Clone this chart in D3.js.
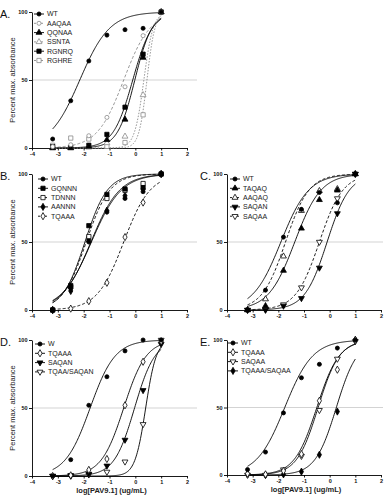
<!DOCTYPE html>
<html>
<head>
<meta charset="utf-8">
<script src="https://cdn.jsdelivr.net/npm/d3@7"></script>
<style>
body { margin: 0; background: #fff; }
svg { display: block; font-family: "Liberation Sans", Arial, sans-serif; }
</style>
</head>
<body>
<svg></svg>
<script>
// Doses (log ug/mL), 5-fold dilutions
const doses = [-3.2, -2.5, -1.8, -1.1, -0.4, 0.3, 1.0]
const xTicks = [-4, -3, -2, -1, 0, 1, 2]
const yTicks = [0, 50, 100]

// Panel A
const aSeries = ["WT", "AAQAA", "QQNAA", "SSNTA", "RGNRQ", "RGHRE"]
const aWT = [6.6, 34.7, 64, 83, 87, 88, 100]
const aAAQAA = [1, 2.4, 9, 22.5, 45, 82.6, 100]
const aQQNAA = [0, 0, 1, 6, 21, 66.5, 100]
const aSSNTA = [0, 0, 0.5, 3.7, 8.5, 39, 100]
const aRGNRQ = [1, 0.5, 2, 10, 30, 69, 100]
const aRGHRE = [2, 7.3, 6.6, 1.2, 4, 24.4, 100]
const aEC50 = [-2.15, -0.45, -0.02, 0.33, -0.1, 0.45]
const aHill = [0.75, 0.85, 1.3, 2.4, 1.15, 2.8]

// Panel B
const bSeries = ["WT", "GQNNN", "TDNNN", "AANNN", "TQAAA"]
const bWT = [0, 16, 50, 72, 82, 87, 100]
const bGQNNN = [0, 18, 62, 85, 89, 90, 100]
const bTDNNN = [0, 17, 54, 82, 88, 93, 100]
const bAANNN = [0, 14, 52, 73, 84, 89, 100]
const bTQAAA = [0, 1, 6.5, 20, 53.6, 79, 100]
const bEC50 = [-1.7, -1.95, -1.9, -1.72, -0.45]
const bHill = [0.75, 1.0, 0.95, 0.78, 0.85]

// Panel C
const cSeries = ["WT", "TAQAQ", "AAQAQ", "SAQAN", "SAQAA"]
const cWT = [0, 14.6, 53.6, 74, 86.4, 78.8, 100]
const cTAQAQ = [0, 3, 29, 60, 81, 88, 100]
const cAAQAQ = [0, 8, 39.5, 73, 87.6, 89, 100]
const cSAQAN = [0, 0, 3, 8.6, 31, 71, 100]
const cSAQAA = [0, 0.5, 4, 16.5, 50, 82, 100]
const cEC50 = [-1.9, -1.36, -1.72, -0.1, -0.4]
const cHill = [0.8, 0.85, 0.95, 1.0, 0.95]

// Panel D
const dSeries = ["W", "TQAAA", "SAQAN", "TQAA/SAQAN"]
const dWT = [0, 12, 52, 73, 92, 100, 100]
const dTQAAA = [0, 0.5, 4.5, 12.5, 52, 84, 99]
const dSAQAN = [0, 0.5, 1.5, 7.5, 26.5, 63, 97]
const dTQAASAQAN = [0, 0, 1, 3, 10.5, 38, 100]
const dEC50 = [-1.75, -0.45, -0.03, 0.4]
const dHill = [0.9, 1.0, 1.1, 2.1]

// Panel E
const eSeries = ["WT", "TQAAA", "SAQAA", "TQAAA/SAQAA"]
const eWT = [4, 17, 46, 72, 82, 94, 100]
const eTQAAA = [1, 0.5, 3, 15.5, 55, 78, 100]
const eSAQAA = [0, 0, 4, 14, 48, 86, 99]
const eTQAAASAQAA = [0.5, 0, 0.5, 2.5, 15, 47, 100]
const eEC50 = [-1.75, -0.5, -0.45, 0.26]
const eHill = [0.8, 1.0, 1.05, 1.06]

// Styles: [symbol, dash, colour]
const grey = "#8a8a8a"
const aStyle = [["circle", null, "#000"], ["circleOpen", "3,2", grey], ["triangle", null, "#000"],
                ["triangleOpen", "1.5,1.5", grey], ["square", null, "#000"], ["squareOpen", "1.5,1.5", grey]]
const bStyle = [["circle", null, "#000"], ["square", null, "#000"], ["squareOpen", "3,2", "#000"],
                ["diamond", null, "#000"], ["diamondOpen", "3,2", "#000"]]
const cStyle = [["circle", null, "#000"], ["triangle", null, "#000"], ["triangleOpen", "3,2", "#000"],
                ["tdown", null, "#000"], ["tdownOpen", "3,2", "#000"]]
const dStyle = [["circle", null, "#000"], ["diamondOpen", null, "#000"], ["tdown", null, "#000"], ["tdownOpen", null, "#000"]]
const eStyle = [["circle", null, "#000"], ["diamondOpen", null, "#000"], ["tdownOpen", null, "#000"], ["diamond", null, "#000"]]

const width = 386
const height = 496

const svg = d3.select("svg")
    .attr("width", width)
    .attr("height", height)

const panels = [
    { label: "A.", names: aSeries, values: [aWT, aAAQAA, aQQNAA, aSSNTA, aRGNRQ, aRGHRE], ec50: aEC50, hill: aHill, style: aStyle,
      x0: 32, x1: 187, yTop: 12, yBot: 148, labelX: 0, legX: 39, legY: 14, yTitle: true, xTitle: false, ext: 10 },
    { label: "B.", names: bSeries, values: [bWT, bGQNNN, bTDNNN, bAANNN, bTQAAA], ec50: bEC50, hill: bHill, style: bStyle,
      x0: 32, x1: 187, yTop: 174, yBot: 310, labelX: 0, legX: 43, legY: 179, yTitle: true, xTitle: false, ext: 10 },
    { label: "C.", names: cSeries, values: [cWT, cTAQAQ, cAAQAQ, cSAQAN, cSAQAA], ec50: cEC50, hill: cHill, style: cStyle,
      x0: 227, x1: 381, yTop: 174, yBot: 310, labelX: 200, legX: 235, legY: 179, yTitle: false, xTitle: false, ext: 2 },
    { label: "D.", names: dSeries, values: [dWT, dTQAAA, dSAQAN, dTQAASAQAN], ec50: dEC50, hill: dHill, style: dStyle,
      x0: 32, x1: 187, yTop: 340, yBot: 476, labelX: 0, legX: 40, legY: 344, yTitle: true, xTitle: true, ext: 10 },
    { label: "E.", names: eSeries, values: [eWT, eTQAAA, eSAQAA, eTQAAASAQAA], ec50: eEC50, hill: eHill, style: eStyle,
      x0: 227, x1: 381, yTop: 340, yBot: 475, labelX: 200, legX: 233, legY: 343, yTitle: false, xTitle: true, ext: 2 }
]

const shapes = {
    circle: d3.symbolCircle, square: d3.symbolSquare, triangle: d3.symbolTriangle,
    tdown: d3.symbolTriangle, diamond: d3.symbolDiamond
}

// draw one marker
const marker = (g, type, x, y, color) => {
    const open = type.endsWith("Open")
    const base = type.replace("Open", "")
    const size = base === "square" ? 18 : base === "circle" ? 13 : 15
    g.append("path")
        .attr("d", d3.symbol(shapes[base], size)())
        .attr("transform", `translate(${x},${y})` + (base === "tdown" ? " rotate(180)" : ""))
        .attr("fill", open ? "#fff" : color)
        .attr("stroke", color)
        .attr("stroke-width", 0.8)
}

// 4-parameter logistic fit (bottom 0, top 100)
const logistic = (x, ec50, hill) => 100 / (1 + Math.pow(10, (ec50 - x) * hill))

panels.forEach(p => {
    const xScale = d3.scaleLinear().domain([-4, 2]).range([p.x0, p.x1])
    const yScale = d3.scaleLinear().domain([0, 100]).range([p.yBot, p.yTop])
    const g = svg.append("g")

    // 50% reference line
    g.append("line")
        .attr("x1", xScale(-4)).attr("x2", xScale(2) + p.ext)
        .attr("y1", yScale(50)).attr("y2", yScale(50))
        .attr("stroke", "#c8c8c8").attr("stroke-width", 0.8)

    const xAxis = d3.axisBottom(xScale).tickValues(xTicks).tickFormat(d => String(d))
        .tickSize(2.5).tickSizeOuter(0).tickPadding(1.5)
    const yAxis = d3.axisLeft(yScale).tickValues(yTicks).tickFormat(d => String(d))
        .tickSize(3).tickSizeOuter(0).tickPadding(1.5)

    const xAxisG = g.append("g").attr("transform", `translate(0,${p.yBot})`).call(xAxis)
    const yAxisG = g.append("g").attr("transform", `translate(${p.x0},0)`).call(yAxis)
    ;[xAxisG, yAxisG].forEach(a => {
        a.selectAll("path, line").attr("stroke", "#000").attr("stroke-width", 0.9)
        a.selectAll("text").attr("font-size", "5.5px").attr("font-weight", "bold")
            .attr("font-family", "Liberation Sans, Arial, sans-serif").attr("fill", "#111")
    })

    // fitted curves
    const line = d3.line().x(d => xScale(d[0])).y(d => yScale(d[1]))
    p.names.forEach((name, i) => {
        const xs = d3.range(doses[0], doses[doses.length - 1] + 0.001, 0.025)
        const pts = xs.map(x => [x, logistic(x, p.ec50[i], p.hill[i])])
        g.append("path")
            .attr("d", line(pts))
            .attr("fill", "none")
            .attr("stroke", p.style[i][2])
            .attr("stroke-width", 0.9)
            .attr("stroke-dasharray", p.style[i][1])
    })

    // data points, first series drawn last so it sits on top
    p.names.map((n, i) => i).reverse().forEach(i => {
        p.values[i].forEach((v, j) => marker(g, p.style[i][0], xScale(doses[j]), yScale(v), p.style[i][2]))
    })

    // legend
    p.names.forEach((name, i) => {
        const ly = p.legY + i * 9.3
        g.append("line")
            .attr("x1", p.legX - 5).attr("x2", p.legX + 5)
            .attr("y1", ly).attr("y2", ly)
            .attr("stroke", p.style[i][2]).attr("stroke-width", 0.9)
            .attr("stroke-dasharray", p.style[i][1] ? "2,1.5" : null)
        marker(g, p.style[i][0], p.legX, ly, p.style[i][2])
        g.append("text")
            .attr("x", p.legX + 8).attr("y", ly + 2.4)
            .attr("font-size", "7px").attr("fill", "#222")
            .text(name)
    })

    // panel letter
    g.append("text")
        .attr("x", p.labelX).attr("y", p.yTop + 6)
        .attr("font-size", "11px").attr("fill", "#111")
        .text(p.label)

    if (p.yTitle) {
        g.append("text")
            .attr("transform", `translate(15,${(p.yTop + p.yBot) / 2}) rotate(-90)`)
            .attr("text-anchor", "middle")
            .attr("font-size", "7.5px").attr("fill", "#222")
            .text("Percent max. absorbance")
    }
    if (p.xTitle) {
        g.append("text")
            .attr("x", (p.x0 + p.x1) / 2 + 2).attr("y", p.yBot + 17)
            .attr("text-anchor", "middle")
            .attr("font-size", "7.5px").attr("font-weight", "bold").attr("fill", "#222")
            .text("log[PAV9.1]  (ug/mL)")
    }
})
</script>
</body>
</html>
